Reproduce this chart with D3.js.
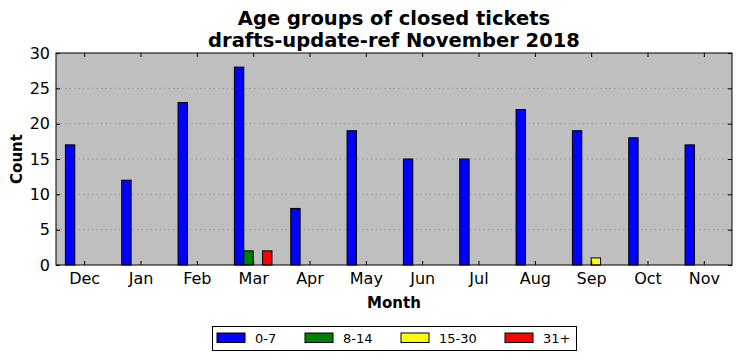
<!DOCTYPE html>
<html><head><meta charset="utf-8">
<script src="https://cdn.jsdelivr.net/npm/d3@7"></script>
<style>body{margin:0;background:#fff;} text{font-family:"DejaVu Sans",sans-serif;}</style>
</head><body><svg id="c" width="742" height="361"></svg>
<script>
const months = ["Dec","Jan","Feb","Mar","Apr","May","Jun","Jul","Aug","Sep","Oct","Nov"];
const seriesNames = ["0-7","8-14","15-30","31+"];
const seriesColors = ["#0000ff","#008000","#ffff00","#ff0000"];
const s0_7 = [17,12,23,28,8,19,15,15,22,19,18,17];
const s8_14 = [0,0,0,2,0,0,0,0,0,0,0,0];
const s15_30 = [0,0,0,0,0,0,0,0,0,1,0,0];
const s31p = [0,0,0,2,0,0,0,0,0,0,0,0];
const yTicks = [0,5,10,15,20,25,30];
const series = [s0_7,s8_14,s15_30,s31p];

const svg = d3.select("#c");
const L=56,R=732,T=53,B=265;
const x = d3.scaleLinear().domain([-0.5,11.5]).range([L,R]);
const y = d3.scaleLinear().domain([0,30]).range([B,T]);
const w = 1/6;

svg.append("rect").attr("x",L).attr("y",T).attr("width",R-L).attr("height",B-T).attr("fill","#bfbfbf");
svg.append("g").selectAll("line").data(yTicks.slice(1,-1)).join("line")
  .attr("x1",L).attr("x2",R).attr("y1",d=>y(d)).attr("y2",d=>y(d))
  .attr("stroke","#808080").attr("stroke-width",0.6).attr("stroke-dasharray","1.5,3");
series.forEach((s,k)=>{
  svg.append("g").selectAll("rect").data(s).join("rect")
    .attr("x",(d,i)=>x(i+(k-2)*w)).attr("width",x(w)-x(0))
    .attr("y",d=>y(d)).attr("height",d=>y(0)-y(d))
    .attr("fill",seriesColors[k]).attr("stroke","#000").attr("stroke-width",1);
});
svg.append("rect").attr("x",L).attr("y",T).attr("width",R-L).attr("height",B-T).attr("fill","none").attr("stroke","#000").attr("stroke-width",1);
const ax = svg.append("g").attr("transform",`translate(0,${B})`)
  .call(d3.axisBottom(x).tickValues(d3.range(12)).tickFormat(i=>months[i]).tickSizeInner(-4).tickSizeOuter(0).tickPadding(8));
ax.select(".domain").remove();
ax.selectAll("text").attr("font-size",16).attr("fill","#000");
const axt = svg.append("g").attr("transform",`translate(0,${T})`)
  .call(d3.axisTop(x).tickValues(d3.range(12)).tickFormat("").tickSizeInner(-4).tickSizeOuter(0));
axt.select(".domain").remove();
const ay = svg.append("g").attr("transform",`translate(${L},0)`)
  .call(d3.axisLeft(y).tickValues(yTicks).tickSizeInner(-4).tickSizeOuter(0).tickPadding(6));
ay.select(".domain").remove();
ay.selectAll("text").attr("font-size",16).attr("fill","#000");
const ayr = svg.append("g").attr("transform",`translate(${R},0)`)
  .call(d3.axisRight(y).tickValues(yTicks).tickFormat("").tickSizeInner(-4).tickSizeOuter(0));
ayr.select(".domain").remove();

svg.append("text").attr("x",(L+R)/2).attr("y",25).attr("text-anchor","middle").attr("font-size",19.5).attr("font-weight","bold").text("Age groups of closed tickets");
svg.append("text").attr("x",(L+R)/2).attr("y",47).attr("text-anchor","middle").attr("font-size",19.5).attr("font-weight","bold").text("drafts-update-ref November 2018");
svg.append("text").attr("x",(L+R)/2).attr("y",308).attr("text-anchor","middle").attr("font-size",15).attr("font-weight","bold").text("Month");
svg.append("text").attr("transform",`translate(22,${(T+B)/2}) rotate(-90)`).attr("text-anchor","middle").attr("font-size",15).attr("font-weight","bold").text("Count");

const lg = svg.append("g");
lg.append("rect").attr("x",212.5).attr("y",326.5).attr("width",364).attr("height",24).attr("fill","#fff").attr("stroke","#000");
const lx = [217,305,401,505];
seriesNames.forEach((n,k)=>{
  lg.append("rect").attr("x",lx[k]).attr("y",333).attr("width",28).attr("height",9.5).attr("fill",seriesColors[k]).attr("stroke","#000");
  lg.append("text").attr("x",lx[k]+38).attr("y",343).attr("font-size",13).text(n);
});
</script></body></html>
